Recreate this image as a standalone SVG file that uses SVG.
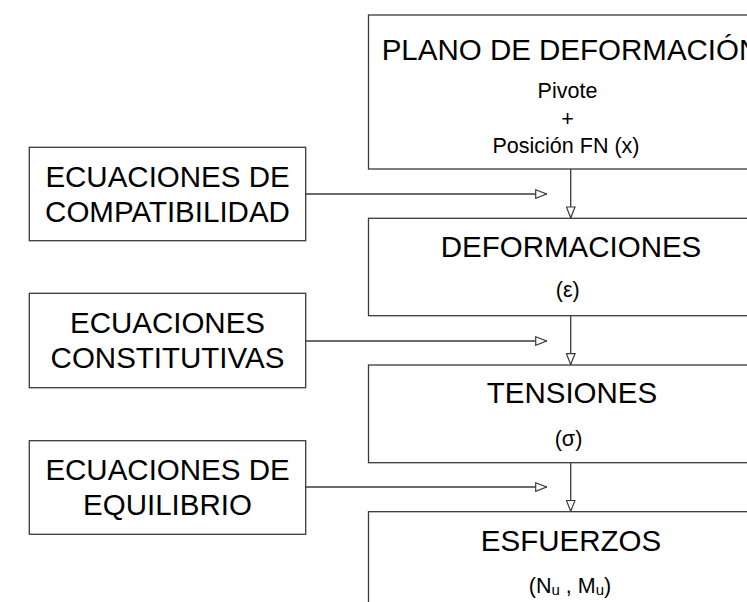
<svg xmlns="http://www.w3.org/2000/svg" width="747" height="602" viewBox="0 0 747 602">
<style>
.box{fill:#fff;stroke:#3a3a3a;stroke-width:1.3}
.big{font-family:"Liberation Sans",Arial,sans-serif;font-size:29.5px;fill:#000;text-anchor:middle}
.small{font-family:"Liberation Sans",Arial,sans-serif;font-size:21.5px;fill:#000;text-anchor:middle}
.line{fill:none;stroke:#3a3a3a;stroke-width:1.3}
</style>
<defs>
<marker id="tri" viewBox="0 0 12 10" refX="12" refY="5" markerWidth="12" markerHeight="10" markerUnits="userSpaceOnUse" orient="auto">
<path d="M0.7,0.7 L11.5,5 L0.7,9.3 Z" fill="#fff" stroke="#3a3a3a" stroke-width="1.2"/>
</marker>
</defs>
<rect width="747" height="602" fill="#fff"/>
<g id="connectors">
<line class="line" x1="570.7" y1="169" x2="570.7" y2="218.3" marker-end="url(#tri)"/>
<line class="line" x1="570.7" y1="315.7" x2="570.7" y2="365" marker-end="url(#tri)"/>
<line class="line" x1="570.7" y1="462.7" x2="570.7" y2="511.7" marker-end="url(#tri)"/>
<line class="line" x1="305.7" y1="194" x2="547" y2="194" marker-end="url(#tri)"/>
<line class="line" x1="305.7" y1="341" x2="547" y2="341" marker-end="url(#tri)"/>
<line class="line" x1="305.7" y1="487" x2="547" y2="487" marker-end="url(#tri)"/>
</g>
<g id="plano">
<rect class="box" x="368.5" y="15" width="405" height="154"/>
<text class="big" x="571" y="60">PLANO DE DEFORMACIÓN</text>
<text class="small" x="567.5" y="98.3">Pivote</text>
<text class="small" x="567.5" y="125.8">+</text>
<text class="small" x="566" y="153">Posición FN (x)</text>
</g>
<g id="deformaciones">
<rect class="box" x="368.5" y="218.3" width="405" height="97.4"/>
<text class="big" x="571" y="256.7">DEFORMACIONES</text>
<text class="small" x="567.8" y="297.3">(ε)</text>
</g>
<g id="tensiones">
<rect class="box" x="368.5" y="365" width="405" height="97.7"/>
<text class="big" x="572" y="403.3">TENSIONES</text>
<text class="small" x="568.5" y="445.7">(σ)</text>
</g>
<g id="esfuerzos">
<rect class="box" x="368.5" y="511.7" width="405" height="110"/>
<text class="big" x="571" y="551">ESFUERZOS</text>
<text class="small" x="570" y="593">(N<tspan font-size="15" dy="2">u</tspan><tspan dy="-2"> , M</tspan><tspan font-size="15" dy="2">u</tspan><tspan dy="-2">)</tspan></text>
</g>
<g id="compatibilidad">
<rect class="box" x="29.3" y="147.3" width="276.4" height="93.4"/>
<text class="big" x="167.5" y="186.7">ECUACIONES DE</text>
<text class="big" x="167.5" y="221.7">COMPATIBILIDAD</text>
</g>
<g id="constitutivas">
<rect class="box" x="29.3" y="293.3" width="276.4" height="94.4"/>
<text class="big" x="167.5" y="333.3">ECUACIONES</text>
<text class="big" x="167.5" y="368.3">CONSTITUTIVAS</text>
</g>
<g id="equilibrio">
<rect class="box" x="29.3" y="440.7" width="276.4" height="93.6"/>
<text class="big" x="167.5" y="480">ECUACIONES DE</text>
<text class="big" x="167.5" y="515">EQUILIBRIO</text>
</g>
</svg>
